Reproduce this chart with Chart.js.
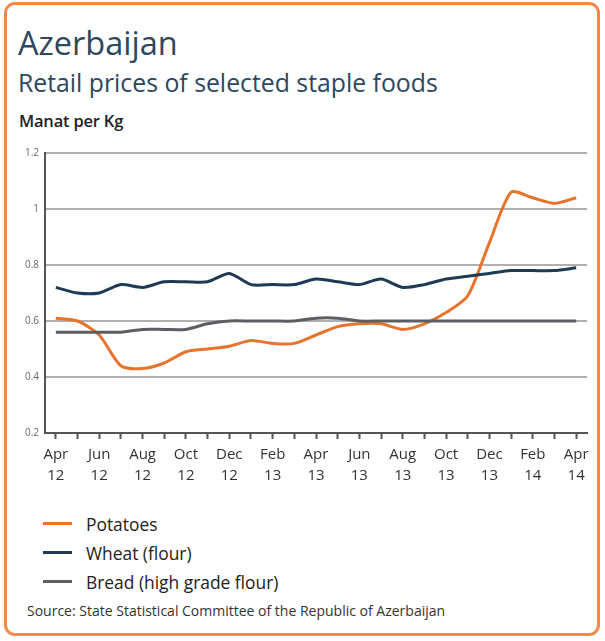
<!DOCTYPE html>
<html>
<head>
<meta charset="utf-8">
<script src="https://cdn.jsdelivr.net/npm/chart.js@4.4.1/dist/chart.umd.min.js"></script>
<style>
  html, body { margin: 0; padding: 0; background: #fff; }
  body { width: 605px; height: 641px; position: relative; overflow: hidden; font-family: "Open Sans", sans-serif; }
  #frame { position: absolute; left: 4px; top: 2px; width: 590px; height: 628px; border: 3px solid #ef8a4c; border-radius: 11px; }
  .t { position: absolute; white-space: nowrap; line-height: 1; }
  #title { left: 18px; top: 27px; font-size: 32.5px; color: #2d4760; }
  #subtitle { left: 18px; top: 70px; font-size: 24.8px; color: #2d4760; }
  #unit { left: 19px; top: 113px; font-size: 16.5px; font-weight: 600; color: #222; letter-spacing: -0.2px; }
  #chartbox { position: absolute; left: 0; top: 140px; width: 605px; height: 348px; }
  #legend { position: absolute; left: 43px; top: 509px; }
  .row { height: 29px; display: flex; align-items: center; font-size: 17.4px; color: #222; white-space: nowrap; }
  .sw { width: 29px; height: 3px; margin-right: 14px; }
  #source { left: 27px; top: 604px; font-size: 14px; color: #333; }
</style>
</head>
<body>
<div id="frame"></div>
<div id="title" class="t">Azerbaijan</div>
<div id="subtitle" class="t">Retail prices of selected staple foods</div>
<div id="unit" class="t">Manat per Kg</div>
<div id="chartbox"><canvas id="c" width="605" height="348"></canvas></div>
<div id="legend"></div>
<div id="source" class="t">Source: State Statistical Committee of the Republic of Azerbaijan</div>
<script>
const months = ['Apr','May','Jun','Jul','Aug','Sep','Oct','Nov','Dec','Jan','Feb','Mar',
                'Apr','May','Jun','Jul','Aug','Sep','Oct','Nov','Dec','Jan','Feb','Mar','Apr'];
const years = ['12','12','12','12','12','12','12','12','12','13','13','13',
               '13','13','13','13','13','13','13','13','13','14','14','14','14'];
const potatoes = [0.61,0.60,0.55,0.44,0.43,0.45,0.49,0.50,0.51,0.53,0.52,0.52,
                  0.55,0.58,0.59,0.59,0.57,0.59,0.63,0.69,0.88,1.06,1.04,1.02,1.04];
const wheat = [0.72,0.70,0.70,0.73,0.72,0.74,0.74,0.74,0.77,0.73,0.73,0.73,
               0.75,0.74,0.73,0.75,0.72,0.73,0.75,0.76,0.77,0.78,0.78,0.78,0.79];
const bread = [0.56,0.56,0.56,0.56,0.57,0.57,0.57,0.59,0.60,0.60,0.60,0.60,
               0.61,0.61,0.60,0.60,0.60,0.60,0.60,0.60,0.60,0.60,0.60,0.60,0.60];
const seriesNames = ['Potatoes','Wheat (flour)','Bread (high grade flour)'];
const seriesColors = ['#e8732c','#1e3a54','#5b5e62'];
const yTicks = [0.2,0.4,0.6,0.8,1,1.2];

const labels = months.map((m,i) => [m, years[i]]);
const series = [potatoes, wheat, bread];

const lg = document.getElementById('legend');
seriesNames.forEach((n,i) => {
  const r = document.createElement('div'); r.className = 'row';
  r.innerHTML = '<div class="sw" style="background:' + seriesColors[i] + '"></div>' + n;
  lg.appendChild(r);
});

new Chart(document.getElementById('c'), {
  type: 'line',
  data: {
    labels: labels,
    datasets: [2,1,0].map(i => ({
      label: seriesNames[i],
      data: series[i],
      borderColor: seriesColors[i],
      borderWidth: 3,
      pointRadius: 0,
      tension: 0.25,
      fill: false
    }))
  },
  options: {
    responsive: false,
    animation: false,
    events: [],
    layout: { padding: { left: 0, right: 18, top: 13, bottom: 0 } },
    plugins: { legend: { display: false }, tooltip: { enabled: false } },
    scales: {
      x: {
        offset: true,
        grid: { display: true, drawOnChartArea: false, drawTicks: true, tickLength: 6, tickColor: '#555', tickWidth: 2, offset: false },
        border: { display: true, color: '#555', width: 2 },
        ticks: {
          autoSkip: false, maxRotation: 0, padding: 6,
          color: '#333', font: { family: 'Open Sans', size: 15, lineHeight: 1.35 },
          callback: function(v, i) { return i % 2 === 0 ? labels[i] : ''; }
        },
        afterFit: function(a) { a.height = 55; }
      },
      y: {
        min: 0.2, max: 1.2,
        afterBuildTicks: function(a) { a.ticks = yTicks.map(v => ({ value: v })); },
        grid: { color: '#b0b0b0', lineWidth: 2, drawTicks: false },
        border: { display: true, color: '#555', width: 2 },
        ticks: { padding: 6, color: '#666', font: { family: 'Open Sans', size: 10 },
                 callback: function(v) { return String(+(+v).toFixed(1)); } },
        afterFit: function(a) { a.width = 45; }
      }
    }
  }
});
</script>
</body>
</html>
